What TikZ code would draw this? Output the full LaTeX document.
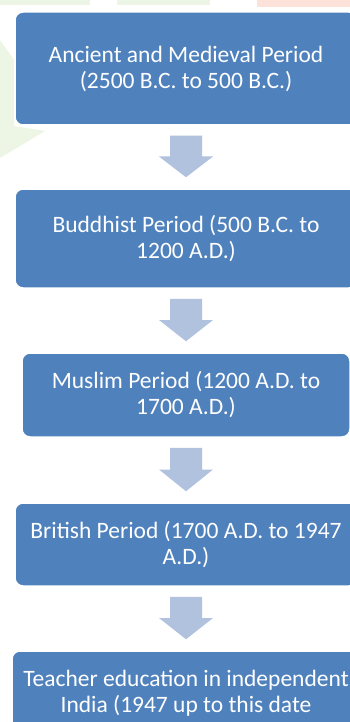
\documentclass[tikz,border=0pt]{standalone}
\usepackage{fontspec}
\setmainfont{Carlito}
\usetikzlibrary{calc}
\definecolor{boxblue}{HTML}{4F81BD}
\definecolor{arrowblue}{HTML}{B1C2DE}
\definecolor{wmgreen}{HTML}{EDF6E4}
\definecolor{wmpink}{HTML}{FDE2D9}
\tikzset{
  periodbox/.style={rectangle, rounded corners=8pt, fill=boxblue, draw=white, line width=1.5pt,
    text=white, align=center, inner sep=0pt,
    font=\fontsize{23.5pt}{26pt}\selectfont},
  blockarrowstyle/.style={fill=arrowblue, draw=none}
}
\newcommand\blockarrow[2]{%
  \path[blockarrowstyle] let \p1=($(#1.south)+(0,10)$), \p2=($(#2.north)+(0,-11)$) in
    ({\x1-16pt},{\y1}) -- ({\x1+16pt},{\y1}) -- ({\x1+16pt},{0.5*\y1+0.5*\y2}) --
    ({\x1+27pt},{0.5*\y1+0.5*\y2}) -- ({\x1},{\y2}) -- ({\x1-27pt},{0.5*\y1+0.5*\y2}) --
    ({\x1-16pt},{0.5*\y1+0.5*\y2}) -- cycle;}
\begin{document}
\begin{tikzpicture}[x=1pt,y=-1pt]
\useasboundingbox (0,0) rectangle (350,722);
\fill[white] (0,0) rectangle (350,722);
% faint watermark
\fill[wmpink] (257,0) rectangle (350,7);
\fill[wmgreen] (0,0) rectangle (90,5);
\fill[wmgreen] (117,0) rectangle (210,5);
\fill[wmgreen] (0,40) -- (14,60) -- (14,126) -- (45,131) -- (0,158) -- cycle;
% boxes
\node[periodbox, minimum width=342pt, minimum height=113pt] (b1) at (186,68.5)
  {Ancient and Medieval Period\\(2500 B.C. to 500 B.C.)};
\node[periodbox, minimum width=342pt, minimum height=99pt] (b2) at (186,238.5)
  {Buddhist Period (500 B.C. to\\1200 A.D.)};
\node[periodbox, minimum width=328pt, minimum height=84pt] (b3) at (186,395)
  {Muslim Period (1200 A.D. to\\1700 A.D.)};
\node[periodbox, minimum width=342pt, minimum height=83pt] (b4) at (186,544.5)
  {British Period (1700 A.D. to 1947\\A.D.)};
\node[periodbox, minimum width=348pt, minimum height=84pt] (b5) at (186,693)
  {Teacher education in independent\\India (1947 up to this date};
% arrows
\blockarrow{b1}{b2}
\blockarrow{b2}{b3}
\blockarrow{b3}{b4}
\blockarrow{b4}{b5}
\end{tikzpicture}
\end{document}
